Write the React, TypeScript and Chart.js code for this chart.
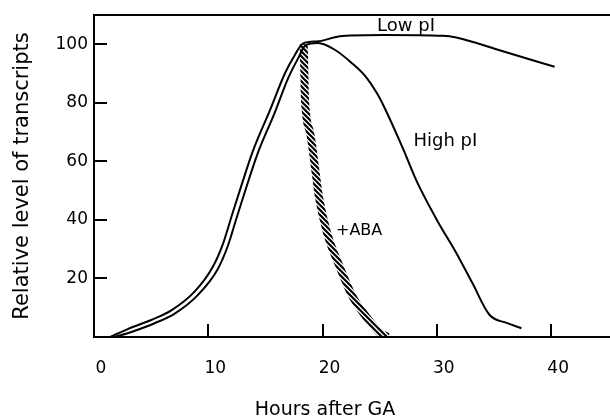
import React, { useEffect, useRef } from 'react';
import { Chart, registerables } from 'chart.js';

Chart.register(...registerables);

// Hours after GA / relative level of transcripts
const lowX = [1.4, 3.0, 5.0, 6.8, 8.8, 10.4, 11.3, 12.1, 13.0, 13.9, 15.4, 16.7, 17.6, 18.3, 19.6, 21.3, 22.5, 25.4, 30.5, 31.7, 35.2, 40.3];
const lowY = [0, 2.8, 5.8, 9.2, 15.5, 24, 32, 42, 53, 63.5, 77.5, 90, 96.5, 100.3, 101, 102.6, 103, 103.2, 102.9, 102.3, 98.3, 92.3];

const highX = [1.8, 3.4, 5.3, 7.1, 9.1, 10.8, 11.7, 12.5, 13.4, 14.3, 15.8, 17.0, 17.9, 18.5, 19.6, 21.0, 22.5, 23.7, 24.8, 25.4, 27.0, 28.2, 30.0, 31.7, 33.1, 34.6, 36.1, 37.4];
const highY = [0, 1.9, 4.7, 8.1, 14.4, 23, 31, 41, 52, 62.5, 76.5, 88.5, 95.5, 99.6, 100.4, 98.3, 93.8, 89.3, 83, 78.5, 64.7, 53.5, 40, 28.7, 18.5, 7.6, 4.8, 3.0];

const abaX = [18.35, 18.4, 18.45, 18.9, 19.4, 19.7, 20.4, 21.5, 22.6, 23.8, 25.0, 25.7];
const abaY = [100, 92, 82, 70, 56, 47.5, 35.5, 24, 14, 7, 1.5, 0];

const xTickValues = [0, 10, 20, 30, 40];
const yTickValues = [20, 40, 60, 80, 100];

const noteTexts = ['Low pI', 'High pI', '+ABA'];
const noteX = [27.3, 30.75, 23.2];
const noteY = [106.3, 66.8, 36.2];

const FONT = '"DejaVu Sans", sans-serif';
const noteSizes = [18, 18, 16];

const notesPlugin = {
  id: 'notes',
  afterDatasetsDraw(chart: any) {
    const { ctx, scales } = chart;
    ctx.save();
    ctx.fillStyle = '#000';
    ctx.textAlign = 'center';
    ctx.textBaseline = 'middle';
    noteTexts.forEach((t, i) => {
      ctx.font = `${noteSizes[i]}px ${FONT}`;
      ctx.fillText(t, scales.x.getPixelForValue(noteX[i]), scales.y.getPixelForValue(noteY[i]));
    });
    ctx.restore();
  },
};

export default function App() {
  const ref = useRef<HTMLCanvasElement>(null);

  useEffect(() => {
    document.body.style.margin = '0';
    const canvas = ref.current!;
    const pc = document.createElement('canvas');
    pc.width = 5;
    pc.height = 5;
    const g = pc.getContext('2d')!;
    g.strokeStyle = '#000';
    g.lineWidth = 2.2;
    g.beginPath();
    for (const k of [-5, 0, 5]) {
      g.moveTo(k - 1, -1);
      g.lineTo(k + 6, 6);
    }
    g.stroke();
    const hatch = canvas.getContext('2d')!.createPattern(pc, 'repeat');

    const axisGrid = {
      display: true,
      drawOnChartArea: false,
      drawTicks: true,
      tickLength: -13,
      color: '#000',
      lineWidth: 2,
    };
    const axisBorder = { display: true, color: '#000', width: 2 };

    const chart = new Chart(canvas, {
      type: 'line',
      data: {
        datasets: [
          {
            label: 'Low pI',
            data: lowX.map((x, i) => ({ x, y: lowY[i] })),
            borderColor: '#000',
            borderWidth: 2,
            pointRadius: 0,
            cubicInterpolationMode: 'monotone',
            fill: false,
          },
          {
            label: 'High pI',
            data: highX.map((x, i) => ({ x, y: highY[i] })),
            borderColor: '#000',
            borderWidth: 2,
            pointRadius: 0,
            cubicInterpolationMode: 'monotone',
            fill: false,
          },
          {
            label: '+ABA',
            data: abaX.map((x, i) => ({ x, y: abaY[i] })),
            borderColor: hatch as any,
            borderWidth: 8,
            borderCapStyle: 'butt',
            pointRadius: 0,
            cubicInterpolationMode: 'monotone',
            fill: false,
          },
        ],
      },
      options: {
        responsive: false,
        animation: false,
        events: [],
        layout: { padding: { left: 40, right: 0, top: 15, bottom: 0 } },
        plugins: {
          legend: { display: false },
          tooltip: { enabled: false },
          title: {
            display: true,
            text: 'Hours after GA',
            position: 'bottom',
            color: '#000',
            font: { family: FONT, size: 19, weight: 'normal', lineHeight: 1 },
            padding: { top: 0, bottom: 0 },
          },
        },
        scales: {
          x: {
            type: 'linear',
            position: 'bottom',
            min: 0,
            max: 45.15,
            afterBuildTicks: (s: any) => {
              s.ticks = xTickValues.map((v) => ({ value: v }));
            },
            afterFit: (s: any) => {
              s.height = 64;
              s.paddingLeft = 0;
              s.paddingRight = 0;
            },
            grid: axisGrid,
            border: axisBorder,
            ticks: {
              color: '#000',
              font: { family: FONT, size: 17 },
              padding: 34,
              labelOffset: 7,
              maxRotation: 0,
              autoSkip: false,
            },
          },
          xTop: {
            type: 'linear',
            axis: 'x',
            position: 'top',
            min: 0,
            max: 45.15,
            afterFit: (s: any) => {
              s.height = 0;
              s.paddingLeft = 0;
              s.paddingRight = 0;
            },
            grid: { display: true, drawOnChartArea: false, drawTicks: false },
            border: axisBorder,
            ticks: { display: false },
          },
          y: {
            type: 'linear',
            position: 'left',
            min: 0,
            max: 110,
            afterBuildTicks: (s: any) => {
              s.ticks = yTickValues.map((v) => ({ value: v }));
            },
            afterFit: (s: any) => {
              s.width = 54;
              s.paddingTop = 0;
              s.paddingBottom = 0;
            },
            grid: axisGrid,
            border: axisBorder,
            ticks: {
              color: '#000',
              font: { family: FONT, size: 17 },
              padding: 19,
            },
            title: {
              display: true,
              text: 'Relative level of transcripts',
              color: '#000',
              font: { family: FONT, size: 21, lineHeight: 1.2 },
              padding: { top: -29.6, bottom: 0 },
            },
          },
        },
      } as any,
      plugins: [notesPlugin],
    });

    return () => chart.destroy();
  }, []);

  return <canvas ref={ref} width={610} height={420} style={{ display: 'block' }} />;
}
